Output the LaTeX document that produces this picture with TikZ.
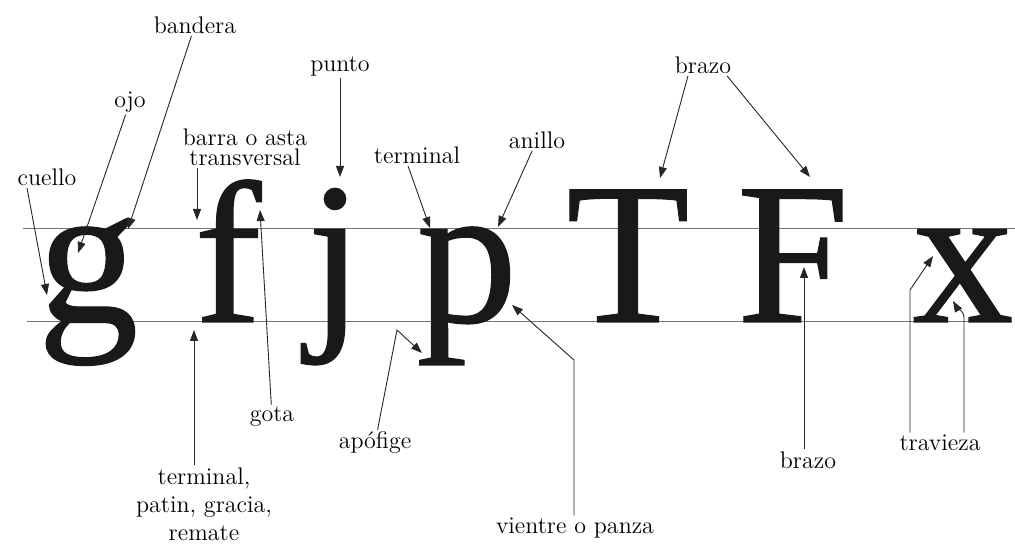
\documentclass[tikz,border=0pt]{standalone}
\usepackage{fontspec}
\newfontfamily\glyphfont[FakeBold=0.6]{Liberation Serif}
\usetikzlibrary{arrows.meta}

\tikzstyle{tag} = [inner sep=1pt, align=center, font=\fontsize{12}{14}\selectfont]
\tikzstyle{glyph} = [anchor=base, inner sep=0pt, text height=46pt, text=black!90, font=\glyphfont\fontsize{101}{101}\selectfont]
\tikzstyle{tall} = [text height=69pt]
\tikzstyle{pointer} = [-{Triangle[length=5.5pt,width=4pt]}, line width=0.45pt, black!85]
\tikzstyle{guide} = [line width=0.5pt, black!55]

\begin{document}
\begin{tikzpicture}[x=0.5pt, y=-0.5pt]
\useasboundingbox (0,0) rectangle (1015,544);

\draw[guide] (23,229) -- (1015,229);
\draw[guide] (27,322) -- (1012,322);

\node[glyph] (gl) at (88,322) {g};
\node[glyph, tall] (fl) at (228,322) {f};
\node[glyph, tall] (jl) at (335,322) {j};
\node[glyph] (pl) at (467,322) {p};
\node[glyph, tall] (Tl) at (628,322) {T};
\node[glyph, tall] (Fl) at (793,322) {F};
\node[glyph] (xl) at (963,322) {x};

\node[tag] (bandera) at (195,25) {bandera};
\node[tag] (ojo) at (130,102) {ojo};
\node[tag] (cuello) at (47,177) {cuello};
\node[tag, font=\fontsize{12}{10}\selectfont] (barra) at (245,147) {barra o asta\\transversal};
\node[tag] (punto) at (340,66) {punto};
\node[tag] (terminal) at (417,155) {terminal};
\node[tag] (anillo) at (537,140) {anillo};
\node[tag] (brazo) at (703,65) {brazo};
\node[tag] (gota) at (272,417) {gota};
\node[tag] (remate) at (204,504) {terminal,\\patin, gracia,\\remate};
\node[tag] (apofige) at (375,443) {apófige};
\node[tag] (vientre) at (575,528) {vientre o panza};
\node[tag] (brazo2) at (808,460) {brazo};
\node[tag] (travieza) at (940,443) {travieza};

\coordinate (bandera-tip) at (128,229);
\coordinate (ojo-tip) at (78,253);
\coordinate (cuello-tip) at (47,295);
\coordinate (barra-tip) at (197,220);
\coordinate (punto-tip) at (340,177);
\coordinate (terminal-tip) at (430,228);
\coordinate (anillo-tip) at (498,227);
\coordinate (brazoT-tip) at (660,178);
\coordinate (brazoF-tip) at (810,177);
\coordinate (gota-tip) at (260,210);
\coordinate (remate-tip) at (194,330);
\coordinate (apofige-bend) at (397,330);
\coordinate (apofige-tip) at (422,353);
\coordinate (vientre-bend) at (574,360);
\coordinate (vientre-tip) at (512,305);
\coordinate (brazo2-tip) at (804,267);
\coordinate (travieza-bendA) at (910,290);
\coordinate (travieza-tipA) at (933,256);
\coordinate (travieza-bendB) at (964,318);
\coordinate (travieza-tipB) at (953,301);

\draw[pointer] (bandera) -- (bandera-tip);
\draw[pointer] (ojo) -- (ojo-tip);
\draw[pointer] ([xshift=-10pt]cuello.south) -- (cuello-tip);
\draw[pointer] (barra.south -| barra-tip) -- (barra-tip);
\draw[pointer] (punto) -- (punto-tip);
\draw[pointer] ([xshift=-4.5pt]terminal.south) -- (terminal-tip);
\draw[pointer] (anillo) -- (anillo-tip);
\draw[pointer] ([xshift=-7.5pt]brazo.south) -- (brazoT-tip);
\draw[pointer] ([xshift=12pt]brazo.south) -- (brazoF-tip);
\draw[pointer] (gota) -- (gota-tip);
\draw[pointer] (remate.north -| remate-tip) -- (remate-tip);
\draw[pointer] (apofige) -- (apofige-bend) -- (apofige-tip);
\draw[pointer] (vientre.north -| vientre-bend) -- (vientre-bend) -- (vientre-tip);
\draw[pointer] (brazo2.north -| brazo2-tip) -- (brazo2-tip);
\draw[pointer] (travieza.north -| travieza-bendA) -- (travieza-bendA) -- (travieza-tipA);
\draw[pointer] (travieza.north -| travieza-bendB) -- (travieza-bendB) to[out=90,in=-60] (travieza-tipB);
\end{tikzpicture}
\end{document}
